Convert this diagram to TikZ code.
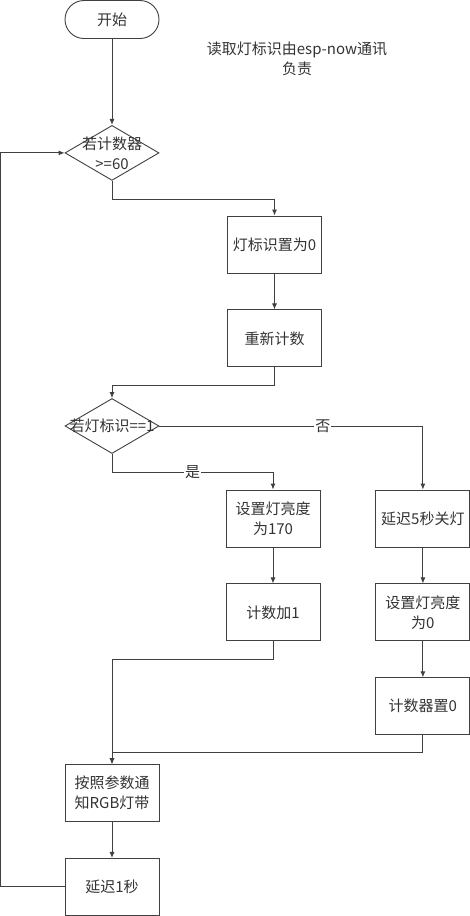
\documentclass[tikz,border=0pt]{standalone}
\usepackage{fontspec}
\usepackage{xcolor}
\usetikzlibrary{arrows.meta, positioning, calc, shapes.geometric}
\newfontfamily\cjk{Noto Sans CJK SC}

\begin{document}
\begin{tikzpicture}[x=1pt, y=1pt, node distance=36pt,
    every node/.style={font=\cjk\fontsize{15}{20}\selectfont, text=black!80, align=center},
    box/.style={draw=black!75, line width=0.9pt, minimum width=94pt, minimum height=57pt, inner sep=0pt},
    term/.style={box, rounded corners=19pt, minimum height=38pt},
    decision/.style={diamond, draw=black!75, line width=0.9pt, minimum width=94pt, minimum height=55pt, inner sep=0pt},
    arr/.style={draw=black!75, line width=0.9pt, -{Latex[length=6pt, width=5pt]}},
    tag/.style={fill=white, inner sep=1pt}]
    \useasboundingbox (0,0) rectangle (470,-916);
    \node[term] (start) at (112,-19.5) {开始};
    \node (note) at (297,-59) {读取灯标识由esp-now通讯\\负责};
    \node[decision, below=86pt of start] (cnt) {};
    \node (cnt-t) at (cnt) {若计数器\\>=60};
    \node[box] (set0) at (274.5,-244.5) {灯标识置为0};
    \node[box, below=of set0] (recount) {重新计数};
    \node[decision] (flag) at (112,-426) {};
    \node (flag-t) at (flag) {若灯标识==1};
    \node[box] (bright) at (273,-518.5) {设置灯亮度\\为170};
    \node[box, below=of bright] (add) {计数加1};
    \node[box, right=55pt of bright] (delay5) {延迟5秒关灯};
    \node[box, below=of delay5] (dark) {设置灯亮度\\为0};
    \node[box, below=of dark] (reset) {计数器置0};
    \node[box] (notify) at (112,-793) {按照参数通\\知RGB灯带};
    \node[box, below=of notify] (delay1) {延迟1秒};

    \draw[arr] (start) -- (cnt);
    \draw[arr] (cnt.south) -- ++(0,-19) -| (set0.north);
    \draw[arr] (set0) -- (recount);
    \draw[arr] (recount.south) -- ++(0,-18) -| (flag.north);
    \draw[arr] (flag.east) -| node[tag, pos=0.31] {否} (delay5.north);
    \draw[arr] (flag.south) -- ++(0,-18) -| node[tag, pos=0.25] {是} (bright.north);
    \draw[arr] (bright) -- (add);
    \draw[arr] (delay5) -- (dark);
    \draw[arr] (dark) -- (reset);
    \draw[arr] (add.south) -- ++(0,-18) -| (notify.north);
    \draw[arr] (reset.south) -- ++(0,-17) -| (notify.north);
    \draw[arr] (notify) -- (delay1);
    \draw[arr] (delay1.west) -- ++(-64,0) |- (cnt.west);
\end{tikzpicture}
\end{document}
